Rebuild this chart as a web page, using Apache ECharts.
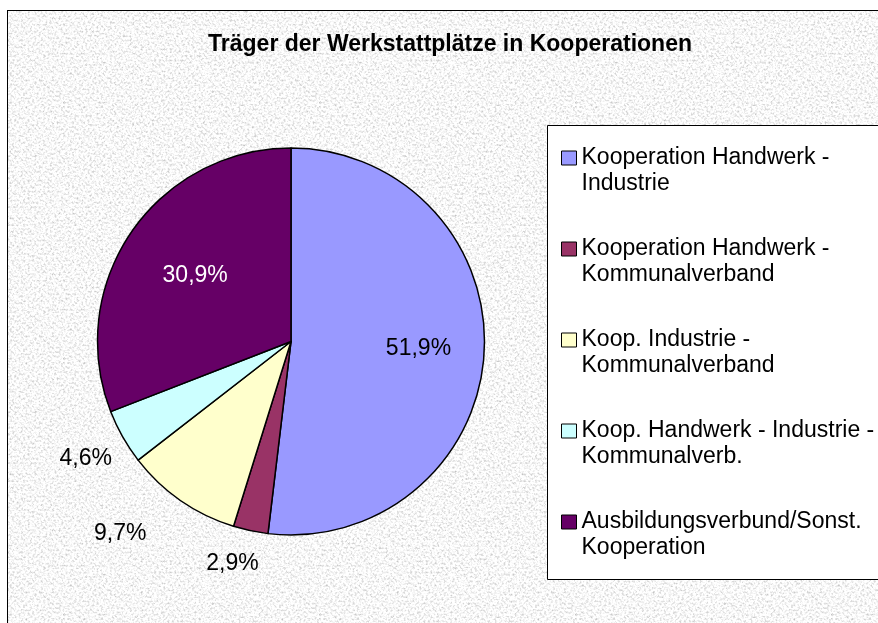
<!DOCTYPE html>
<html>
<head>
<meta charset="utf-8">
<script src="https://cdn.jsdelivr.net/npm/echarts@6/dist/echarts.min.js"></script>
<style>
  html, body { margin: 0; padding: 0; background: #fff; }
  #paper {
    position: absolute; left: 7px; top: 10px; width: 900px; height: 640px;
    border: 1px solid #000; box-sizing: border-box; background-color: #e6e6e6;
  }
  #chart { position: absolute; left: 0; top: 0; width: 878px; height: 623px; }
</style>
</head>
<body>
<div id="paper"></div>
<div id="chart"></div>
<script>
// chart data
const categories = [
  'Kooperation Handwerk -\nIndustrie',
  'Kooperation Handwerk -\nKommunalverband',
  'Koop. Industrie -\nKommunalverband',
  'Koop. Handwerk - Industrie -\nKommunalverb.',
  'Ausbildungsverbund/Sonst.\nKooperation'
]
const shares = [51.9, 2.9, 9.7, 4.6, 30.9]

// styling
const sliceColors = ['#9999FF', '#993366', '#FFFFCC', '#CCFFFF', '#660066']
const labelInside = [true, false, false, false, true]
const labelColors = ['#000', '#000', '#000', '#000', '#fff']
const labelRadius = [0.66, 0, 0, 0, 0.6]
const labelNudge = [[0, 0], [-8, 0], [-33, 6], [5, 5], [0, 0]]

const FONT = '"Liberation Sans", Arial, sans-serif'
const cx = 291, cy = 341.5, R = 193.5

// grainy paper texture for the chart area
const noise = "<svg xmlns='http://www.w3.org/2000/svg' width='256' height='256'>" +
  "<filter id='n'><feTurbulence type='fractalNoise' baseFrequency='0.45' numOctaves='3' seed='7'/>" +
  "<feColorMatrix values='1 0 0 0 0.44 1 0 0 0 0.44 1 0 0 0 0.44 0 0 0 0 1'/></filter>" +
  "<rect width='100%' height='100%' filter='url(#n)'/></svg>"
document.getElementById('paper').style.backgroundImage =
  'url("data:image/svg+xml,' + encodeURIComponent(noise) + '")'

const total = shares.reduce((a, b) => a + b, 0)
const midAngle = (i) => {
  let before = 0
  for (let k = 0; k < i; k++) before += shares[k]
  return (before + shares[i] / 2) / total * 2 * Math.PI
}

const chart = echarts.init(document.getElementById('chart'))

const option = {
  animation: false,
  title: {
    text: 'Träger der Werkstattplätze in Kooperationen',
    left: 450,
    top: 33,
    padding: 0,
    textAlign: 'center',
    textStyle: { fontFamily: FONT, fontSize: 23, fontWeight: 'bold', color: '#000' }
  },
  graphic: [
    {
      type: 'rect',
      z: 1,
      shape: { x: 547.5, y: 125.5, width: 400, height: 454 },
      style: { fill: '#fff', stroke: '#000', lineWidth: 1 }
    }
  ],
  legend: {
    orient: 'vertical',
    left: 561,
    top: 119,
    padding: 0,
    z: 5,
    itemGap: 13,
    itemWidth: 15,
    itemHeight: 14,
    icon: 'rect',
    itemStyle: { borderColor: '#000', borderWidth: 1 },
    // blank first line keeps the swatch level with the first text line
    formatter: (name) => ' \n' + name,
    textStyle: { fontFamily: FONT, fontSize: 23, color: '#000', lineHeight: 26 },
    data: categories
  },
  series: [
    {
      type: 'pie',
      center: [cx, cy],
      radius: R,
      startAngle: 90,
      clockwise: true,
      avoidLabelOverlap: false,
      itemStyle: { borderColor: '#000', borderWidth: 1.5 },
      emphasis: { disabled: true },
      labelLine: { show: false },
      label: {
        show: true,
        position: 'inside',
        fontFamily: FONT,
        fontSize: 23,
        formatter: (p) => p.value.toFixed(1).replace('.', ',') + '%'
      },
      labelLayout: (params) => {
        const i = params.dataIndex
        const a = midAngle(i)
        const dx = Math.sin(a), dy = -Math.cos(a)
        const w = params.labelRect.width, h = params.labelRect.height
        let x, y
        if (labelInside[i]) {
          x = cx + dx * R * labelRadius[i]
          y = cy + dy * R * labelRadius[i]
        } else {
          const d = R + 22
          x = cx + dx * d + dx * w / 2
          y = cy + dy * d + dy * h / 2
        }
        x += labelNudge[i][0]
        y += labelNudge[i][1]
        return { x, y, align: 'center', verticalAlign: 'middle' }
      },
      data: categories.map((name, i) => ({
        name,
        value: shares[i],
        itemStyle: { color: sliceColors[i] },
        label: { color: labelColors[i] }
      }))
    }
  ]
}

chart.setOption(option)
</script>
</body>
</html>
